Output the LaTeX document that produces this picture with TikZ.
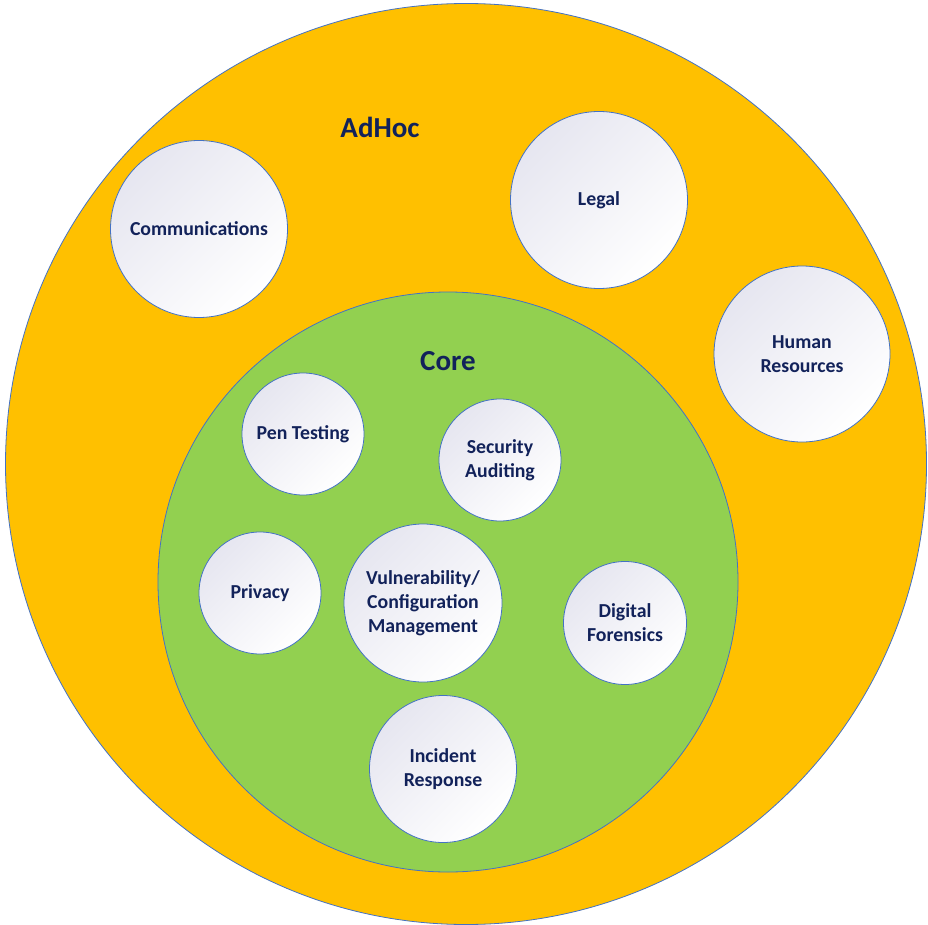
\documentclass[tikz,border=0pt]{standalone}
\usepackage{fontspec}
\setmainfont{Carlito}
\definecolor{adhocgold}{HTML}{FFC000}
\definecolor{coregreen}{HTML}{92D050}
\definecolor{rimblue}{HTML}{4472C4}
\definecolor{labelnavy}{HTML}{12225A}
\definecolor{bubbletop}{HTML}{E6E6F0}
\begin{document}
\begin{tikzpicture}[x=1pt,y=-1pt,
  ring/.style={circle,draw=rimblue,line width=0.8pt,inner sep=0pt},
  bubble/.style={ring,top color=bubbletop,bottom color=white,shading angle=45,
    align=center,text=labelnavy,font=\bfseries\fontsize{19.8}{24}\selectfont},
  title/.style={text=labelnavy,font=\bfseries\fontsize{29}{34}\selectfont}]
\useasboundingbox (0,0) rectangle (928,925);
% the two rings
\node[ring,fill=adhocgold,minimum size=921pt] (adhoc) at (466,464) {};
\node[ring,fill=coregreen,minimum size=580pt] (core) at (448,582) {};
\node[title] (adhoclabel) at (380,127) {AdHoc};
\node[title] (corelabel) at (448,361) {Core};
% outer functions
\node[bubble,minimum size=177pt] (comms) at (199,229) {Communications};
\node[bubble,minimum size=177pt] (legal) at (599,200) {Legal};
\node[bubble,minimum size=176pt] (hr) at (802,354) {Human\\Resources};
% core functions
\node[bubble,minimum size=122pt] (pentest) at (303,434) {Pen Testing};
\node[bubble,minimum size=122pt] (audit) at (500,460) {Security\\Auditing};
\node[bubble,minimum size=122pt] (privacy) at (260,593) {Privacy};
\node[bubble,minimum size=158pt] (vuln) at (423,603) {Vulnerability/\\Configuration\\Management};
\node[bubble,minimum size=123pt] (forensics) at (625,623) {Digital\\Forensics};
\node[bubble,minimum size=147pt] (incident) at (443,769) {Incident\\Response};
\end{tikzpicture}
\end{document}
